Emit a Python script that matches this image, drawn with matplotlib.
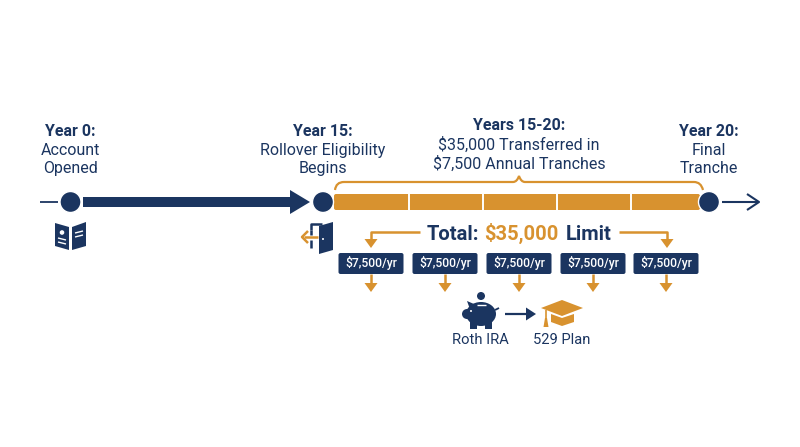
import matplotlib
matplotlib.use("Agg")
import matplotlib.pyplot as plt
from matplotlib.patches import Circle, Ellipse, FancyBboxPatch, PathPatch, Polygon, Rectangle
from matplotlib.path import Path

navy = "#1b3560"
gold = "#d8922f"
plt.rcParams["font.family"] = ["Roboto", "DejaVu Sans"]

milestone_x = [70.5, 323, 709]
milestone_heads = ["Year 0:", "Year 15:", "Year 20:"]
milestone_text = ["Account\nOpened", "Rollover Eligibility\nBegins", "Final\nTranche"]
tranche_edges = [333, 409, 483, 557, 631, 700]
tranche_x = [371, 445, 519, 593, 666]
tranche_labels = ["$7,500/yr"] * 5

fig = plt.figure(figsize=(8, 4.47), dpi=100)
ax = fig.add_axes([0, 0, 1, 1])
ax.set_xlim(0, 800)
ax.set_ylim(447, 0)
ax.axis("off")


def poly(pts, color, z=3):
	ax.add_patch(Polygon(pts, closed=True, fc=color, ec="none", zorder=z))


def line(xs, ys, color, lw=1.8, z=3):
	ax.plot(xs, ys, color=color, lw=lw, solid_capstyle="butt", solid_joinstyle="round", zorder=z)


def gold_down(x, y0, y1):
	line([x, x], [y0, y1 - 6], gold)
	poly([(x - 6.5, y1 - 9), (x + 6.5, y1 - 9), (x, y1)], gold)


# timeline
line([40, 58], [202, 202], navy, 1.3)
ax.add_patch(Rectangle((83, 197), 208, 10, fc=navy, ec="none", zorder=2))
poly([(290, 190), (310, 202), (290, 214)], navy)
ax.add_patch(FancyBboxPatch((334, 194), 366, 16, boxstyle="round,pad=0,rounding_size=2", fc=gold, ec="none", zorder=2))
for edge in tranche_edges[1:-1]:
	line([edge, edge], [194, 210], "white", 1.4)
for x in milestone_x:
	ax.add_patch(Circle((x, 202), 10.5, fc=navy, ec="white", lw=1, zorder=4))
line([722, 758], [202, 202], navy, 1.5)
line([747, 759, 747], [194, 202, 210], navy, 1.5)

# milestone labels
for x, head, body in zip(milestone_x, milestone_heads, milestone_text):
	ax.text(x, 131, head, ha="center", va="center", fontsize=11.5, fontweight="bold", color=navy)
	ax.text(x, 159.5, body, ha="center", va="center", fontsize=11.5, color=navy, linespacing=1.22)
ax.text(519, 126, "Years 15-20:", ha="center", va="center", fontsize=11.5, fontweight="bold", color=navy)
ax.text(519, 154.5, "$35,000 Transferred in\n$7,500 Annual Tranches", ha="center", va="center", fontsize=11.5, color=navy, linespacing=1.22)

# bracket over the tranches
bracket = [
	(Path.MOVETO, (335, 190)), (Path.CURVE3, (336, 182)), (Path.CURVE3, (344, 182)),
	(Path.LINETO, (513, 182)), (Path.CURVE3, (517, 182)), (Path.CURVE3, (519, 176)),
	(Path.CURVE3, (521, 182)), (Path.CURVE3, (525, 182)),
	(Path.LINETO, (694, 182)), (Path.CURVE3, (701, 182)), (Path.CURVE3, (703, 190)),
]
ax.add_patch(PathPatch(Path([p for _, p in bracket], [c for c, _ in bracket]), fc="none", ec=gold, lw=1.6, zorder=3))

# total line
ax.text(427, 240, "Total:", ha="left", va="baseline", fontsize=14.5, fontweight="bold", color=navy)
ax.text(484, 240, "$35,000", ha="left", va="baseline", fontsize=14.5, fontweight="bold", color=gold)
ax.text(566, 240, "Limit", ha="left", va="baseline", fontsize=14.5, fontweight="bold", color=navy)
line([420, 371, 371], [232, 232, 240], gold)
poly([(364.5, 239), (377.5, 239), (371, 248)], gold)
line([619, 667, 667], [232, 232, 240], gold)
poly([(660.5, 239), (673.5, 239), (667, 248)], gold)

# tranche boxes
for x, label in zip(tranche_x, tranche_labels):
	ax.add_patch(FancyBboxPatch((x - 32.5, 253), 65, 21, boxstyle="round,pad=0,rounding_size=2", fc=navy, ec="none", zorder=3))
	ax.text(x, 263.5, label, ha="center", va="center", fontsize=8.7, fontweight="medium", color="white", zorder=4)
	gold_down(x, 274, 292)

# book icon
poly([(55, 223), (69, 227), (69, 250), (55, 246)], navy)
poly([(72, 227), (86, 222), (86, 246), (72, 250)], navy)
ax.add_patch(Circle((62, 232.5), 2.3, fc="white", ec="none", zorder=4))
for i in range(2):
	line([58, 66], [238 + i * 4, 240 + i * 4], "white", 1.0, 4)
	line([75, 83], [233 + i * 4, 231 + i * 4], "white", 1.0, 4)

# door icon
line([311, 311], [230, 235], navy, 1.8)
line([311, 311], [240, 248], navy, 1.8)
line([311, 311, 322], [230, 224, 224], navy, 1.8)
poly([(319, 226), (333, 222), (333, 250), (319, 254)], navy)
ax.add_patch(Circle((323, 239), 1, fc="white", ec="none", zorder=4))
line([318, 304], [237, 237], gold, 1.8)
line([308, 302, 308], [231, 237, 243], gold, 1.8)

# piggy bank icon
ax.add_patch(Circle((481, 296), 4, fc=navy, ec="none", zorder=3))
ax.add_patch(Ellipse((481, 314), 30, 24, fc=navy, ec="none", zorder=3))
poly([(467, 301), (474, 304), (471, 312)], navy)
ax.add_patch(Ellipse((467, 314), 10, 10, fc=navy, ec="none", zorder=3))
ax.add_patch(Rectangle((470, 320), 7, 8.5, fc=navy, ec="none", zorder=3))
ax.add_patch(Rectangle((485, 320), 7, 8.5, fc=navy, ec="none", zorder=3))
line([495, 499], [310, 308], navy, 1.3)
line([477, 486], [304.5, 304.5], "white", 1.0, 4)
ax.add_patch(Circle((471, 311), 1, fc="white", ec="none", zorder=4))

# arrow between the icons
line([505, 527], [314, 314], navy, 1.6)
poly([(526, 307.5), (536, 314), (526, 320.5)], navy)

# graduation cap icon
poly([(541, 308), (562, 300), (583, 308), (562, 316)], gold)
poly([(551, 314), (562, 318), (574, 314), (574, 322), (562, 326), (551, 322)], gold)
line([546, 546], [310, 320], gold, 1.2)
poly([(545, 318), (547, 318), (548.5, 327), (543.5, 327)], gold)

# bottom labels
ax.text(480, 340, "Roth IRA", ha="center", va="center", fontsize=10.6, color=navy)
ax.text(562, 340, "529 Plan", ha="center", va="center", fontsize=10.6, color=navy)

fig.savefig("out.png", dpi=100, facecolor="white")
